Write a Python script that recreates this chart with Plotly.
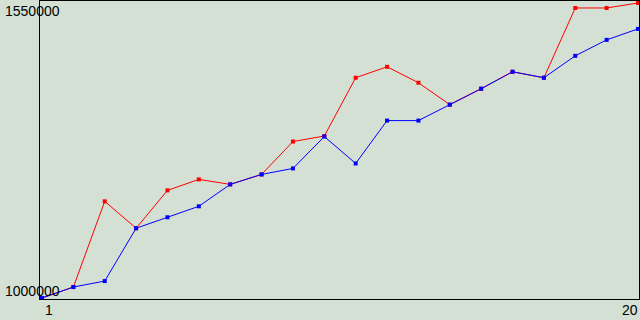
import plotly.graph_objects as go

x_vals = list(range(1, 21))
red_vals = [1000000, 1020370, 1179630, 1129630, 1200000, 1220370, 1211111, 1229630, 1290741, 1301000,
            1409259, 1429630, 1400000, 1359259, 1388889, 1420370, 1409259, 1538889, 1538889, 1548148]
blue_vals = [1000000, 1020370, 1031481, 1129630, 1150000, 1170370, 1211111, 1229630, 1240741, 1300000,
             1250000, 1329630, 1329630, 1359259, 1388889, 1420370, 1409259, 1450000, 1479630, 1500000]

y_tick_vals = [1550000, 1000000]
y_tick_text = ["1550000", "1000000"]
x_tick_vals = [1, 20]
x_tick_text = ["1", "20"]

BG = "#d4e0d4"
FONT = dict(family="Liberation Sans, Arial, sans-serif", size=14, color="#000000")

fig = go.Figure()
fig.add_trace(go.Scatter(x=x_vals, y=red_vals, mode="lines+markers",
                         line=dict(color="#ff0000", width=1),
                         marker=dict(symbol="square", size=4, color="#ff0000"),
                         showlegend=False, hoverinfo="skip"))
fig.add_trace(go.Scatter(x=x_vals, y=blue_vals, mode="lines+markers",
                         line=dict(color="#0000ff", width=1),
                         marker=dict(symbol="square", size=4, color="#0000ff"),
                         showlegend=False, hoverinfo="skip"))

# y tick labels (drawn as annotations, left aligned like the original)
y_shifts = [-8.5, 7]
for v, t, s in zip(y_tick_vals, y_tick_text, y_shifts):
    fig.add_annotation(xref="paper", x=-36 / 599, xanchor="left",
                       yref="y", y=v, yanchor="middle", yshift=s,
                       text=t, showarrow=False, font=FONT, borderpad=0)

x_anchors = ["left", "right"]
x_shifts = [2, 1]
for v, t, a, s in zip(x_tick_vals, x_tick_text, x_anchors, x_shifts):
    fig.add_annotation(xref="x", x=v, xanchor=a, xshift=s,
                       yref="paper", y=0, yanchor="middle", yshift=-10.5,
                       text=t, showarrow=False, font=FONT, borderpad=0)

axis_common = dict(showgrid=False, zeroline=False, showticklabels=False, ticks="",
                   showline=True, linecolor="#000000", linewidth=1, mirror=True)

fig.update_layout(
    width=640, height=320,
    margin=dict(l=40, r=1, t=1, b=21),
    paper_bgcolor=BG, plot_bgcolor=BG,
    xaxis=dict(range=[1 - 2 / 31.37, 20 + 1 / 31.37], **axis_common),
    yaxis=dict(range=[1000000 - 1851.85, 1550000 + 1851.85], **axis_common),
)

fig.write_html("out.html")
